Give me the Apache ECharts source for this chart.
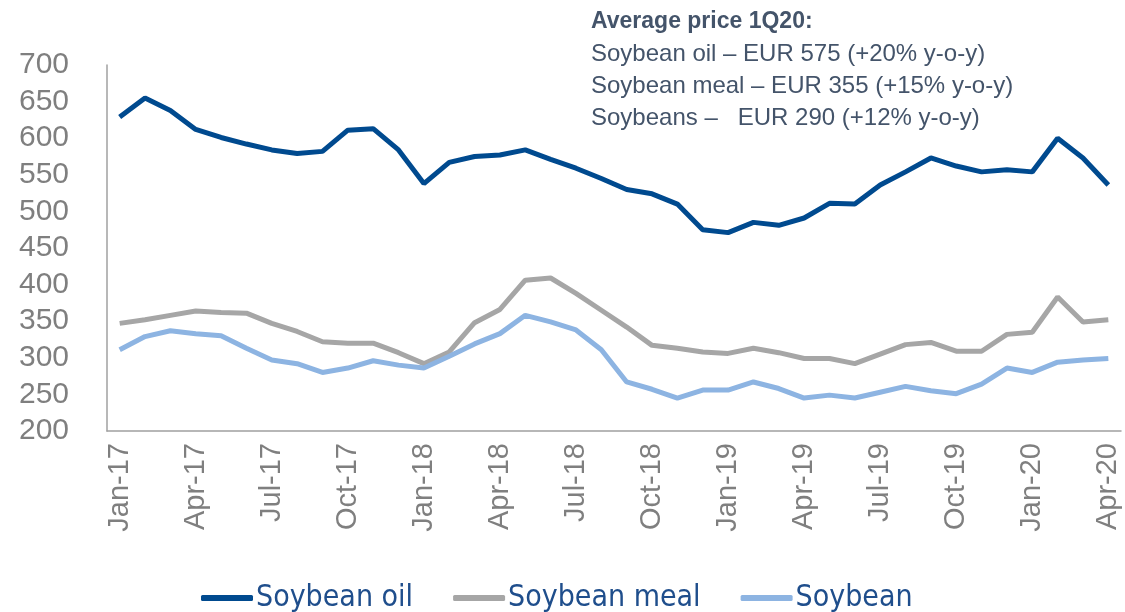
<!DOCTYPE html>
<html>
<head>
<meta charset="utf-8">
<script src="https://cdn.jsdelivr.net/npm/echarts@6/dist/echarts.min.js"></script>
<style>
  html, body { margin: 0; padding: 0; background: #fff; }
  #echarts { width: 1125px; height: 612px; }
</style>
</head>
<body>
<div id="echarts"></div>
<script>
// months Jan-17 .. Apr-20
const months = [
  'Jan-17', 'Feb-17', 'Mar-17', 'Apr-17', 'May-17', 'Jun-17', 'Jul-17', 'Aug-17', 'Sep-17', 'Oct-17', 'Nov-17', 'Dec-17',
  'Jan-18', 'Feb-18', 'Mar-18', 'Apr-18', 'May-18', 'Jun-18', 'Jul-18', 'Aug-18', 'Sep-18', 'Oct-18', 'Nov-18', 'Dec-18',
  'Jan-19', 'Feb-19', 'Mar-19', 'Apr-19', 'May-19', 'Jun-19', 'Jul-19', 'Aug-19', 'Sep-19', 'Oct-19', 'Nov-19', 'Dec-19',
  'Jan-20', 'Feb-20', 'Mar-20', 'Apr-20',
];
const soybeanOil = [
  629, 655, 638, 612, 601, 592, 584, 579, 582, 611, 613, 584,
  538, 567, 575, 577, 584, 571, 559, 545, 530, 524, 510, 475,
  471, 485, 481, 491, 511, 510, 536, 554, 573, 562, 554, 557,
  554, 600, 573, 536,
];
const soybeanMeal = [
  347, 352, 358, 364, 362, 361, 347, 336, 322, 320, 320, 307,
  292, 308, 348, 366, 406, 409, 388, 365, 342, 317, 313, 308,
  306, 313, 307, 299, 299, 292, 305, 318, 321, 309, 309, 332,
  335, 383, 349, 352,
];
const soybean = [
  311, 329, 337, 333, 330, 313, 297, 292, 280, 286, 296, 290,
  286, 302, 319, 333, 358, 349, 338, 311, 267, 257, 245, 256,
  256, 267, 258, 245, 249, 245, 253, 261, 255, 251, 264, 286,
  280, 294, 297, 299,
];
const noteLines = [
  'Soybean oil – EUR 575 (+20% y-o-y)',
  'Soybean meal – EUR 355 (+15% y-o-y)',
  'Soybeans –   EUR 290 (+12% y-o-y)',
];

let myChart = echarts.init(document.getElementById('echarts'));
const grey = '#7f7f7f';
const noteColor = '#44546a';

let option = {
  animation: false,
  textStyle: { fontFamily: 'Liberation Sans' },
  grid: { left: 107, right: 4, top: 65, bottom: 181 },
  legend: {
    bottom: -6,
    left: 196,
    icon: 'roundRect',
    itemWidth: 52,
    itemHeight: 6,
    itemGap: 40,
    textStyle: {
      color: '#1f4e8c',
      fontSize: 30,
      fontFamily: '"DejaVu Sans Condensed", "Liberation Sans"',
      padding: [0, 0, 0, -2],
    },
    data: ['Soybean oil', 'Soybean meal', 'Soybean'],
  },
  graphic: [
    {
      type: 'text',
      left: 591,
      top: 10,
      style: { text: 'Average price 1Q20:', fill: noteColor, font: 'bold 23px "Liberation Sans"' },
    },
    ...noteLines.map((t, i) => ({
      type: 'text',
      left: 591,
      top: 42 + i * 32,
      style: { text: t, fill: noteColor, font: '24px "Liberation Sans"' },
    })),
  ],
  xAxis: {
    type: 'category',
    data: months,
    axisLine: { lineStyle: { color: '#a0a0a0', width: 1.5 } },
    axisTick: { show: false },
    axisLabel: {
      interval: 2,
      rotate: 90,
      color: grey,
      fontSize: 29,
      margin: 12,
    },
  },
  yAxis: {
    type: 'value',
    min: 200,
    max: 700,
    interval: 50,
    splitLine: { show: false },
    axisLine: { show: true, lineStyle: { color: '#a0a0a0', width: 1.5 } },
    axisTick: { show: false },
    axisLabel: { color: grey, fontSize: 30, margin: 38 },
  },
  series: [
    {
      name: 'Soybean oil',
      type: 'line',
      data: soybeanOil,
      symbol: 'none',
      lineStyle: { width: 5, color: '#004a8f' },
      itemStyle: { color: '#004a8f' },
    },
    {
      name: 'Soybean meal',
      type: 'line',
      data: soybeanMeal,
      symbol: 'none',
      lineStyle: { width: 5, color: '#a6a6a6' },
      itemStyle: { color: '#a6a6a6' },
    },
    {
      name: 'Soybean',
      type: 'line',
      data: soybean,
      symbol: 'none',
      lineStyle: { width: 5, color: '#8db4e2' },
      itemStyle: { color: '#8db4e2' },
    },
  ],
};
myChart.setOption(option);
</script>
</body>
</html>
